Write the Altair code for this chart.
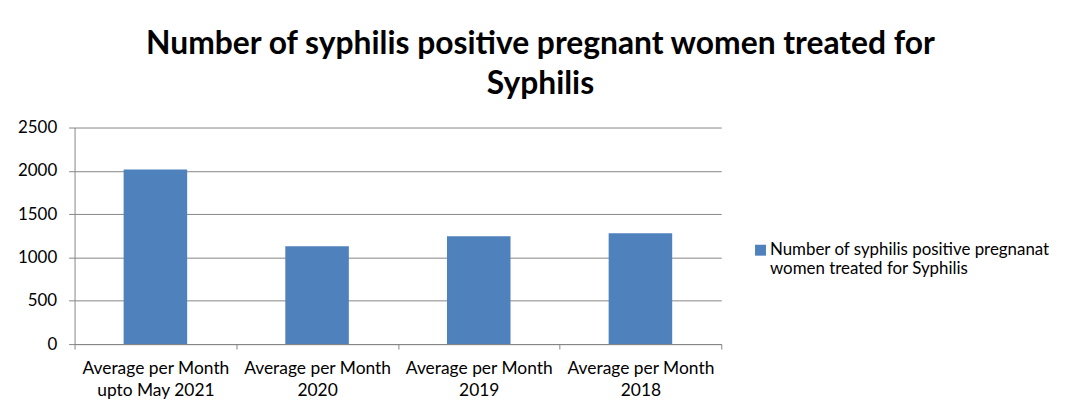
import altair as alt
import pandas as pd

categories = [
    "Average per Month\nupto May 2021",
    "Average per Month\n2020",
    "Average per Month\n2019",
    "Average per Month\n2018",
]
values = [2015, 1130, 1245, 1280]
series_name = "Number of syphilis positive pregnanat\nwomen treated for Syphilis"
y_ticks = [0, 500, 1000, 1500, 2000, 2500]
title_lines = ["Number of syphilis positive pregnant women treated for", "Syphilis"]

df = pd.DataFrame({"category": categories, "value": values, "series": [series_name] * len(categories)})

FONT = "Lato"
GRID = "#868686"
split_expr = "split(datum.label, '\\n')"

chart = (
    alt.Chart(df)
    .mark_bar(width=alt.RelativeBandSize(0.393), color="#4F81BD")
    .encode(
        x=alt.X(
            "category:N",
            sort=categories,
            scale=alt.Scale(paddingInner=0, paddingOuter=0),
            axis=alt.Axis(
                title=None,
                labelAngle=0,
                labelExpr=split_expr,
                tickBand="extent",
                ticks=True,
                tickSize=5,
                tickColor=GRID,
                domainColor=GRID,
                labelFont=FONT,
                labelFontSize=17.5,
                labelColor="black",
                labelPadding=11,
                labelLineHeight=22,
                grid=False,
            ),
        ),
        y=alt.Y(
            "value:Q",
            scale=alt.Scale(domain=[0, 2500], nice=False),
            axis=alt.Axis(
                title=None,
                values=y_ticks,
                format="d",
                grid=True,
                gridColor=GRID,
                tickColor=GRID,
                tickSize=6,
                domainColor=GRID,
                labelFont=FONT,
                labelFontSize=17,
                labelColor="black",
                labelPadding=12,
            ),
        ),
        color=alt.Color(
            "series:N",
            scale=alt.Scale(range=["#4F81BD"]),
            legend=alt.Legend(
                title=None,
                orient="none",
                legendX=682,
                legendY=115,
                symbolType="square",
                symbolSize=121,
                symbolStrokeWidth=0,
                labelExpr=split_expr,
                labelFont=FONT,
                labelFontSize=17,
                labelColor="black",
                labelLimit=0,
                labelOffset=1,
            ),
        ),
    )
    .properties(
        width=651,
        height=218,
        title=alt.TitleParams(
            text=title_lines,
            font=FONT,
            fontSize=32,
            fontWeight="bold",
            color="black",
            anchor="middle",
            frame="group",
            dx=143.5,
            offset=18,
            lineHeight=40,
        ),
        autosize=alt.AutoSizeParams(type="none"),
        padding={"left": 67, "top": 119, "right": 343, "bottom": 60},
    )
    .configure_view(stroke=None)
)

chart.save("out.html", embed_options={"renderer": "svg", "actions": False})
